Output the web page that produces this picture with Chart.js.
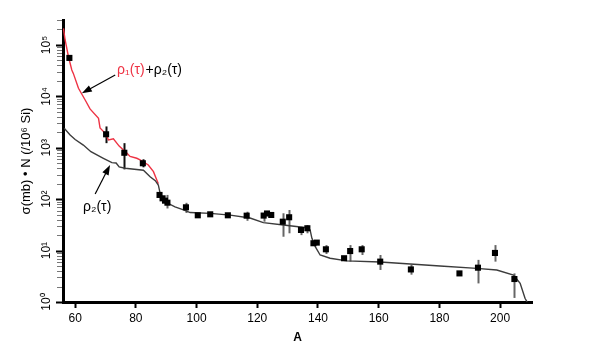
<!DOCTYPE html>
<html><head><meta charset="utf-8">
<script src="https://cdn.jsdelivr.net/npm/chart.js@4/dist/chart.umd.min.js"></script>
<style>html,body{margin:0;padding:0;background:#fff}</style>
</head><body>
<canvas id="c" width="599" height="364"></canvas>
<script>
// ---- data ----
// rho1(tau)+rho2(tau) curve (red)
const sumA = [56.15, 56.7, 57.8, 58.9, 59.4, 61.1, 63.3, 64.9, 67.7, 68.2, 69.9, 71.0, 72.6, 74.5, 77.0, 78.1, 80.3, 81.4, 84.1, 85.8, 86.9, 87.4];
const sumV = [2.1e5, 1.25e5, 5.9e4, 3.27e4, 2.8e4, 1.44e4, 8.5e3, 5.7e3, 3.75e3, 2.43e3, 1.91e3, 1.42e3, 1.5e3, 1.08e3, 790, 680, 625, 580, 463, 343, 236, 200];
// rho2(tau) curve (black)
const g2A = [56.4, 58.35, 60.0, 62.7, 65.2, 69.3, 72.1, 73.5, 74.5, 76.5, 82.5, 84.7, 86.4, 87.4, 88.0, 89.6, 92.9, 95.7, 97.9, 104.5, 111.1, 117.6, 122, 128.6, 136.3, 137.4, 138, 139.1, 140.7, 144, 149.5, 160.5, 170.4, 180.2, 192.3, 198.9, 204.4, 206.6, 208.2, 208.9];
const g2V = [2400, 1775, 1450, 1130, 840, 625, 515, 506, 425, 400, 365, 274, 229, 189, 130, 89, 71, 62, 55, 53, 49, 43, 35, 31.5, 27.9, 25.2, 17.3, 11.9, 8.2, 7.1, 6.3, 6.0, 5.5, 5.0, 4.5, 4.2, 3.35, 2.3, 1.18, 1.0];
// measured abundances with error bars
const ptA   = [58.1, 70.2, 76.2, 82.3, 87.8, 88.8, 89.6, 90.4, 96.5, 100.4, 104.5, 110.3, 116.5, 122.1, 123.2, 124.6, 128.4, 130.5, 134.4, 136.5, 138.5, 139.6, 142.6, 148.6, 150.6, 154.4, 160.5, 170.6, 186.6, 192.7, 198.3, 204.7];
const ptV   = [5.6e4, 1.83e3, 800, 500, 121, 104, 93.6, 85.5, 69.5, 48.6, 50.8, 48.6, 47.8, 48, 52.7, 49.3, 36.5, 44.5, 25.2, 27.2, 13.9, 14.3, 10.6, 7.1, 9.8, 10.6, 6.1, 4.3, 3.6, 4.65, 9.0, 2.8];
const errLo = [null, 1.23e3, 380, 417, null, null, null, 66, 54, null, null, null, 38, 36.5, null, null, 18.6, 21.7, 20, 21.7, null, null, 8.6, null, 6.1, 8.2, 4.2, 3.4, null, 2.3, 6.1, 1.2];
const errHi = [null, 2.6e3, 1.23e3, 597, null, null, null, 121, 85, null, null, null, 57, 52, null, null, 53.2, 61.6, 29.2, 31.5, null, null, 12.8, null, 12.8, 12.8, 8.2, 5.3, null, 6.6, 12.8, 3.6];
// axis ticks
const xTickVals = [60, 80, 100, 120, 140, 160, 180, 200];
const yExponents = [0, 1, 2, 3, 4, 5];
const yMantissas = [1, 2, 3, 4, 5, 6, 7, 8, 9];
const supDigits = ['⁰','¹','²','³','⁴','⁵'];

const X_MIN = 56, X_MAX = 210.5, Y_MIN = 1, Y_MAX = 3.06e5;
const FONT = '"Liberation Sans", Arial, sans-serif';
const RED = '#ee3344';

function toXY(a, v) { return a.map((x, i) => ({x: x, y: v[i]})); }
function isPow10(v) { const l = Math.log10(v); return Math.abs(l - Math.round(l)) < 1e-9; }

const errPlugin = {
  id: 'errbars',
  beforeDatasetsDraw(chart) {
    const {ctx, scales: {x, y}} = chart;
    ctx.save();
    ctx.lineWidth = 2;
    ptA.forEach((a, i) => {
      if (errLo[i] == null) return;
      ctx.strokeStyle = a < 90 ? '#111' : '#666';
      const px = Math.round(x.getPixelForValue(a)) + 0.5;
      ctx.beginPath();
      ctx.moveTo(px, y.getPixelForValue(errLo[i]));
      ctx.lineTo(px, y.getPixelForValue(errHi[i]));
      ctx.stroke();
    });
    ctx.restore();
  }
};

function arrow(ctx, x1, y1, x2, y2) {
  const ang = Math.atan2(y2 - y1, x2 - x1);
  const L = 10, W = 3.5;
  ctx.beginPath();
  ctx.moveTo(x1, y1);
  ctx.lineTo(x2 - Math.cos(ang) * L * 0.8, y2 - Math.sin(ang) * L * 0.8);
  ctx.stroke();
  ctx.beginPath();
  ctx.moveTo(x2, y2);
  ctx.lineTo(x2 - Math.cos(ang) * L - Math.sin(ang) * W, y2 - Math.sin(ang) * L + Math.cos(ang) * W);
  ctx.lineTo(x2 - Math.cos(ang) * L + Math.sin(ang) * W, y2 - Math.sin(ang) * L - Math.cos(ang) * W);
  ctx.closePath();
  ctx.fill();
}

const annoPlugin = {
  id: 'anno',
  afterDraw(chart) {
    const {ctx, scales: {x, y}} = chart;
    ctx.save();
    // y tick marks (major black, minor grey) drawn from the scale
    yTickList.forEach(v => {
      const py = Math.round(y.getPixelForValue(v)) + 0.5;
      const major = isPow10(v);
      ctx.strokeStyle = major ? '#000' : '#777';
      ctx.lineWidth = major ? 2 : 1;
      ctx.beginPath();
      ctx.moveTo(major ? 56 : 57, py);
      ctx.lineTo(62, py);
      ctx.stroke();
    });
    // rotated y tick labels
    ctx.fillStyle = '#000';
    ctx.font = '12px ' + FONT;
    ctx.textAlign = 'center';
    ctx.textBaseline = 'middle';
    yExponents.forEach(p => {
      const py = y.getPixelForValue(Math.pow(10, p));
      ctx.save();
      ctx.translate(47, py);
      ctx.rotate(-Math.PI / 2);
      ctx.fillText('10' + supDigits[p], 0, 0);
      ctx.restore();
    });
    // annotations
    ctx.strokeStyle = '#000';
    ctx.fillStyle = '#000';
    ctx.lineWidth = 1.2;
    arrow(ctx, x.getPixelForValue(73.2), y.getPixelForValue(2.6e4), x.getPixelForValue(62.2), y.getPixelForValue(1.15e4));
    arrow(ctx, x.getPixelForValue(66.6), y.getPixelForValue(126), x.getPixelForValue(71.5), y.getPixelForValue(463));
    ctx.font = '14px ' + FONT;
    ctx.textAlign = 'left';
    const lx = x.getPixelForValue(73.8), ly = y.getPixelForValue(3.26e4);
    ctx.fillStyle = RED;
    const redTxt = 'ρ₁(τ)';
    ctx.fillText(redTxt, lx, ly);
    const w = ctx.measureText(redTxt).width;
    ctx.fillStyle = '#000';
    ctx.fillText('+ρ₂(τ)', lx + w + 1, ly);
    ctx.fillText('ρ₂(τ)', x.getPixelForValue(62.6), y.getPixelForValue(70.5));
    ctx.restore();
  }
};

const yTickList = [];
yExponents.forEach(p => yMantissas.forEach(m => { const v = m * Math.pow(10, p); if (v <= Y_MAX) yTickList.push(v); }));

Chart.defaults.font.family = FONT;
Chart.defaults.color = '#000';

new Chart(document.getElementById('c'), {
  type: 'line',
  data: {
    datasets: [
      { label: 'points', data: toXY(ptA, ptV), showLine: false, pointStyle: 'rect', pointRadius: 4.3,
        pointBackgroundColor: '#000', pointBorderWidth: 0, borderColor: '#000', order: 0 },
      { label: 'rho1+rho2', data: toXY(sumA, sumV), borderColor: RED, borderWidth: 1.4, pointRadius: 0, tension: 0, fill: false, order: 2 },
      { label: 'rho2', data: toXY(g2A, g2V), borderColor: '#3c3c3c', borderWidth: 1.4, pointRadius: 0, tension: 0, fill: false, order: 1 }
    ]
  },
  options: {
    responsive: false,
    animation: false,
    events: [],
    layout: { padding: { left: 0, top: 20, right: 67, bottom: 0 } },
    plugins: { legend: { display: false }, tooltip: { enabled: false } },
    scales: {
      x: {
        type: 'linear', min: X_MIN, max: X_MAX,
        afterFit(s) { s.height = 62; },
        afterBuildTicks(s) { s.ticks = xTickVals.map(v => ({value: v})); },
        border: { display: true, color: '#000', width: 3 },
        grid: { drawOnChartArea: false, drawTicks: true, tickLength: 6, tickColor: '#000', tickWidth: 2 },
        ticks: { font: { size: 12 }, padding: 3, maxRotation: 0, autoSkip: false, includeBounds: false },
        title: { display: true, text: 'A', font: { size: 12, weight: 'bold' }, padding: { top: 0, bottom: 19 } }
      },
      y: {
        type: 'logarithmic', min: Y_MIN, max: Y_MAX,
        afterFit(s) { s.width = 63; },
        afterBuildTicks(s) { s.ticks = yTickList.map(v => ({value: v})); },
        border: { display: true, color: '#000', width: 3 },
        grid: { display: false },
        ticks: { display: false, autoSkip: false },
        title: { display: true, text: 'σ(mb) • N (/10⁶ Si)', font: { size: 13 }, padding: { top: 19, bottom: 0 } }
      }
    }
  },
  plugins: [errPlugin, annoPlugin]
});
</script>
</body></html>
